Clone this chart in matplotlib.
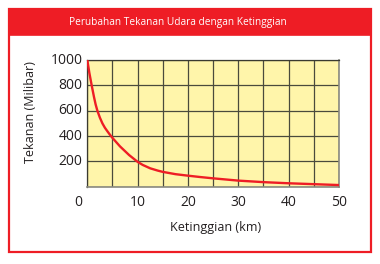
import matplotlib
matplotlib.use("Agg")
import matplotlib.pyplot as plt
from matplotlib.patches import Rectangle

title = "Perubahan Tekanan Udara dengan Ketinggian"
xlabel = "Ketinggian (km)"
ylabel = "Tekanan (Milibar)"
altitude_km = [0, 0.4, 0.87, 1.33, 1.65, 2.0, 2.5, 3.0, 3.5, 4.0, 4.5, 5, 6.5, 8.3, 10, 11,
               12.5, 14, 15, 17.5, 20, 22.5, 25, 30, 35, 40, 45, 50]
pressure_mb = [1000, 900, 800, 708, 650, 600, 545, 500, 465, 437, 410, 385, 318, 250, 196, 172,
               145, 127, 117, 99, 87, 76, 66, 48, 36, 27, 20, 13]
xticks = [10, 20, 30, 40, 50]
yticks = [200, 400, 600, 800, 1000]

W, H = 380, 264
plt.rcParams['font.family'] = ['Open Sans', 'DejaVu Sans']
fig = plt.figure(figsize=(W / 100, H / 100), dpi=100)
fig.patch.set_facecolor('white')

red = '#EE1D25'
txt = '#231F20'

# outer frame and title band
fig.patches.append(Rectangle((9 / W, 1 - 252 / H), 362 / W, 243 / H, transform=fig.transFigure,
                             fill=False, edgecolor=red, linewidth=1.6, zorder=0))
fig.patches.append(Rectangle((9 / W, 1 - 35 / H), 362 / W, 26 / H, transform=fig.transFigure,
                             facecolor=red, edgecolor=red, linewidth=1.2, zorder=0))
fig.text(178 / W, 1 - 22.5 / H, title, color='white', fontsize=7.3, ha='center', va='center')

x0, x1, y0, y1 = 87.3, 339, 60, 186.7
ax = fig.add_axes([x0 / W, 1 - y1 / H, (x1 - x0) / W, (y1 - y0) / H])
ax.set_facecolor('#FFF5AA')
ax.set_xlim(0, 50)
ax.set_ylim(0, 1000)
ax.set_xticks(range(0, 51, 5))
ax.set_yticks(range(0, 1001, 200))
ax.grid(True, color='#4A4A3C', linewidth=0.9)
ax.set_axisbelow(True)
ax.plot(altitude_km, pressure_mb, color='#EE1D25', linewidth=1.7, solid_capstyle='round',
        solid_joinstyle='round', zorder=3)

ax.tick_params(length=0, labelsize=10, colors=txt)
ax.set_xticklabels(['' for _ in range(0, 51, 5)])
ax.set_yticklabels(['' for _ in range(0, 1001, 200)])
for v in xticks:
    ax.annotate(str(v), (v, 0), xytext=(0, -15.5), textcoords='offset pixels',
                ha='center', va='center', fontsize=10, color=txt, annotation_clip=False)
for v in yticks:
    ax.annotate(str(v), (0, v), xytext=(-5, 0), textcoords='offset pixels',
                ha='right', va='center', fontsize=10, color=txt, annotation_clip=False)
ax.annotate('0', (0, 0), xytext=(-9.5, -15.5), textcoords='offset pixels',
            ha='center', va='center', fontsize=10, color=txt, annotation_clip=False)

for s in ['left', 'top']:
    ax.spines[s].set_color('#3A3A30')
    ax.spines[s].set_linewidth(0.9)
for s in ['bottom', 'right']:
    ax.spines[s].set_color('#8A8A80')
    ax.spines[s].set_linewidth(1.2)

fig.text(30 / W, 1 - 112 / H, ylabel, rotation=90, ha='center', va='center', fontsize=9, color=txt)
fig.text(216 / W, 1 - 228 / H, xlabel, ha='center', va='center', fontsize=9, color=txt)

fig.savefig('out.png', dpi=100, facecolor='white')
